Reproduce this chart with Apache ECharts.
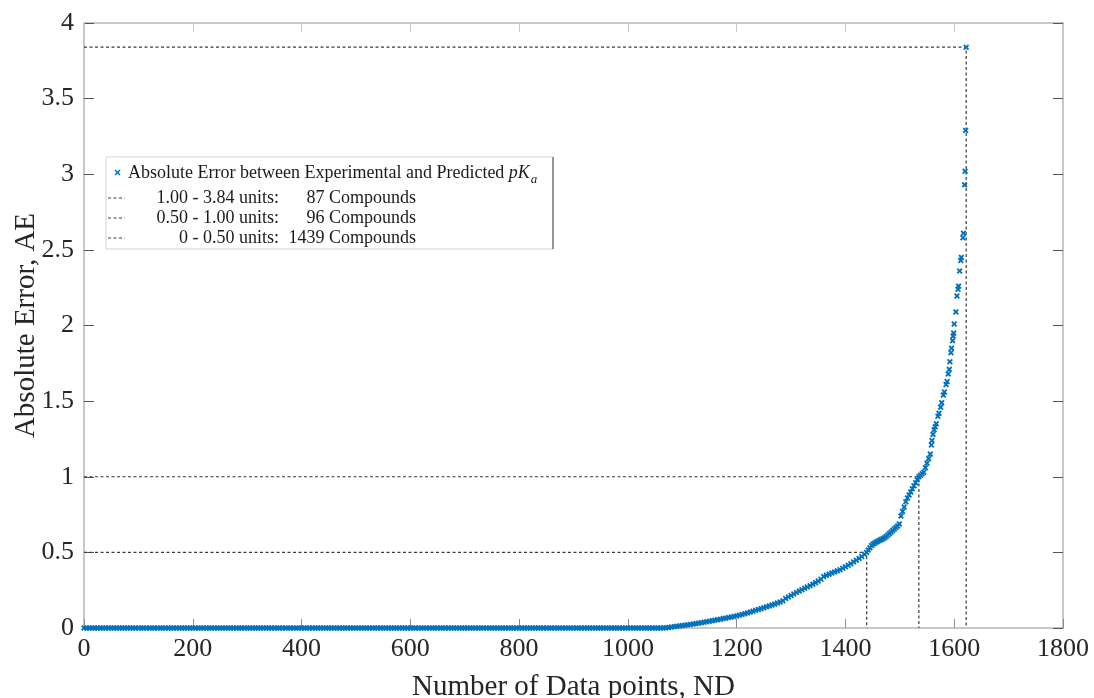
<!DOCTYPE html>
<html>
<head>
<meta charset="utf-8">
<script src="https://cdn.jsdelivr.net/npm/echarts@6/dist/echarts.min.js"></script>
<style>html,body{margin:0;padding:0;background:#fff}#chart{width:1094px;height:698px}</style>
</head>
<body>
<div id="chart"></div>
<script>
// sampled points of the sorted absolute errors (ND index, AE value)
var nd = [
  0,5,10,15,20,25,30,35,40,45,50,55,60,65,70,75,80,85,90,95,
  100,105,110,115,120,125,130,135,140,145,150,155,160,165,170,175,180,185,190,195,
  200,205,210,215,220,225,230,235,240,245,250,255,260,265,270,275,280,285,290,295,
  300,305,310,315,320,325,330,335,340,345,350,355,360,365,370,375,380,385,390,395,
  400,405,410,415,420,425,430,435,440,445,450,455,460,465,470,475,480,485,490,495,
  500,505,510,515,520,525,530,535,540,545,550,555,560,565,570,575,580,585,590,595,
  600,605,610,615,620,625,630,635,640,645,650,655,660,665,670,675,680,685,690,695,
  700,705,710,715,720,725,730,735,740,745,750,755,760,765,770,775,780,785,790,795,
  800,805,810,815,820,825,830,835,840,845,850,855,860,865,870,875,880,885,890,895,
  900,905,910,915,920,925,930,935,940,945,950,955,960,965,970,975,980,985,990,995,
  1000,1005,1010,1015,1020,1025,1030,1035,1040,1045,1050,1055,1060,
  1065,1070,1075,1080,1085,1090,1095,1100,
  1105,1110,1115,1120,1125,1130,1135,1140,1145,1150,1155,1160,1165,1170,1175,1180,1185,1190,1195,1200,
  1205,1210,1215,1220,1225,1230,1235,1240,1245,1250,1255,1260,1265,1270,1275,1280,1285,1290,1295,1300,
  1305,1310,1315,1320,1325,1330,1335,1340,1345,1350,1355,1360,1365,1370,1375,1380,1385,1390,1395,1400,
  1405,1410,1415,1420,1425,1430,1435,
  1439,1442,1445,1448,1451,1454,1457,1460,1463,1466,
  1469,1472,1475,1478,1481,1484,1487,1490,1493,1496,
  1499,1502,1505,1508,1511,1514,1517,1520,1523,1526,
  1529,1532,1535,1538,1541,1544,1547,1550,1553,1556,
  1558,1559,1561,1563,1565,1567,1570,1572,1575,1577,1580,1582,1585,1587,1589,1591,1592,1594,1595,1597,
  1598,1599,1600,1603,1605,1607,1608,1610,1612,1613,1616,1617,1619,1620,1621,1622
];
var ae = [
  0,0,0,0,0,0,0,0,0,0,0,0,0,0,0,0,0,0,0,0,
  0,0,0,0,0,0,0,0,0,0,0,0,0,0,0,0,0,0,0,0,
  0,0,0,0,0,0,0,0,0,0,0,0,0,0,0,0,0,0,0,0,
  0,0,0,0,0,0,0,0,0,0,0,0,0,0,0,0,0,0,0,0,
  0,0,0,0,0,0,0,0,0,0,0,0,0,0,0,0,0,0,0,0,
  0,0,0,0,0,0,0,0,0,0,0,0,0,0,0,0,0,0,0,0,
  0,0,0,0,0,0,0,0,0,0,0,0,0,0,0,0,0,0,0,0,
  0,0,0,0,0,0,0,0,0,0,0,0,0,0,0,0,0,0,0,0,
  0,0,0,0,0,0,0,0,0,0,0,0,0,0,0,0,0,0,0,0,
  0,0,0,0,0,0,0,0,0,0,0,0,0,0,0,0,0,0,0,0,
  0,0,0,0,0,0,0,0,0,0,0,0,0,
  0,0.002,0.004,0.006,0.009,0.011,0.014,0.016,
  0.018,0.021,0.023,0.026,0.029,0.032,0.035,0.038,0.042,0.045,0.048,0.051,0.055,0.058,0.062,0.065,0.069,0.072,0.076,0.08,
  0.085,0.09,0.095,0.10,0.105,0.111,0.117,0.122,0.128,0.134,0.14,0.146,0.152,0.158,0.165,0.172,0.18,0.195,0.205,0.215,
  0.225,0.235,0.244,0.253,0.262,0.271,0.28,0.29,0.30,0.31,0.322,0.34,0.348,0.356,0.364,0.371,0.378,0.385,0.395,0.405,
  0.415,0.425,0.437,0.448,0.46,0.473,0.487,
  0.50,0.515,0.53,0.545,0.555,0.562,0.568,0.574,0.58,0.585,
  0.59,0.597,0.605,0.615,0.625,0.635,0.645,0.655,0.665,0.675,
  0.688,0.74,0.77,0.80,0.835,0.86,0.88,0.90,0.92,0.94,
  0.96,0.98,1.00,1.01,1.02,1.03,1.06,1.09,1.12,1.15,
  1.21,1.24,1.28,1.31,1.33,1.35,1.40,1.42,1.46,1.49,1.54,1.56,1.61,1.63,1.68,1.71,1.76,1.82,1.85,1.90,
  1.93,1.95,2.01,2.09,2.195,2.24,2.26,2.36,2.43,2.45,2.58,2.61,2.93,3.02,3.29,3.84
];
// error bands: upper limit, last ND index, legend text, count
var bandLimits = [3.84, 1.00, 0.50];
var bandEnds = [1622, 1535, 1439];
var bandLabels = ['1.00 - 3.84 units:', '0.50 - 1.00 units:', '0 - 0.50 units:'];
var bandCounts = [87, 96, 1439];

var font = 'Liberation Serif';
var blue = '#0072BD';
var xMark = 'path://M0,2.2L2.2,0L5,2.8L7.8,0L10,2.2L7.2,5L10,7.8L7.8,10L5,7.2L2.2,10L0,7.8L2.8,5Z';

var chart = echarts.init(document.getElementById('chart'));

var points = nd.map(function (x, i) { return [x, ae[i]]; });

var series = [];
bandLimits.forEach(function (lim, i) {
  series.push({
    type: 'line',
    data: [[0, lim], [bandEnds[i], lim], [bandEnds[i], 0]],
    symbol: 'none',
    silent: true,
    z: 1,
    lineStyle: {color: '#3a3a3a', width: 1.2, type: [3, 2.5]}
  });
});
series.push({
  type: 'scatter',
  data: points,
  symbol: xMark,
  symbolSize: 6,
  z: 3,
  itemStyle: {color: blue, opacity: 1}
});

var fs = 18;
var legendEls = [
  {type: 'rect', shape: {x: 106, y: 157, width: 447, height: 92},
   style: {fill: '#fff', stroke: '#d4d4d4', lineWidth: 1}},
  {type: 'line', shape: {x1: 553, y1: 157, x2: 553, y2: 249}, style: {stroke: '#444', lineWidth: 1}},
  {type: 'line', shape: {x1: 115, y1: 170, x2: 120, y2: 175}, style: {stroke: blue, lineWidth: 1.5}},
  {type: 'line', shape: {x1: 120, y1: 170, x2: 115, y2: 175}, style: {stroke: blue, lineWidth: 1.5}},
  {type: 'text', x: 128, y: 173, style: {
    text: '{t|Absolute Error between Experimental and Predicted }{i|pK}{s|a}',
    verticalAlign: 'middle',
    rich: {
      t: {fontFamily: font, fontSize: fs, fill: '#1a1a1a'},
      i: {fontFamily: font, fontSize: fs, fontStyle: 'italic', fill: '#1a1a1a'},
      s: {fontFamily: font, fontSize: 13, fontStyle: 'italic', fill: '#1a1a1a', padding: [14, 0, 0, 1]}
    }
  }}
];
var rowY = [198, 218, 238];
bandLabels.forEach(function (lab, i) {
  legendEls.push({type: 'line', shape: {x1: 108, y1: rowY[i], x2: 125, y2: rowY[i]},
    style: {stroke: '#3a3a3a', lineWidth: 1, lineDash: [3, 2.5]}});
  legendEls.push({type: 'text', x: 279, y: rowY[i], style: {
    text: lab, fontFamily: font, fontSize: fs, fill: '#1a1a1a', align: 'right', verticalAlign: 'middle'}});
  legendEls.push({type: 'text', x: 416, y: rowY[i], style: {
    text: bandCounts[i] + ' Compounds', fontFamily: font, fontSize: fs, fill: '#1a1a1a', align: 'right', verticalAlign: 'middle'}});
});

var labelStyle = {fontFamily: font, fontSize: 26, color: '#262626'};
var axisLine = {show: true, onZero: false, lineStyle: {color: '#b5b5b5', width: 1.5}};
var plain = function (v) { return String(v); };

chart.setOption({
  animation: false,
  backgroundColor: '#fff',
  grid: {left: 84, right: 31, top: 23, bottom: 70, outerBoundsMode: 'none', containLabel: false},
  xAxis: [{
    type: 'value', min: 0, max: 1800, interval: 200,
    name: 'Number of Data points, ND', nameLocation: 'middle', nameGap: 45,
    nameTextStyle: {fontFamily: font, fontSize: 29, color: '#262626'},
    axisLine: axisLine,
    axisTick: {inside: true, length: 9, lineStyle: {color: '#8c8c8c'}},
    axisLabel: Object.assign({margin: 8, formatter: plain}, labelStyle),
    splitLine: {show: false}
  }, {
    type: 'value', min: 0, max: 1800, interval: 200, position: 'top',
    axisLine: axisLine,
    axisTick: {inside: true, length: 9, lineStyle: {color: '#c8c8c8'}},
    axisLabel: {show: false}, splitLine: {show: false}
  }],
  yAxis: [{
    type: 'value', min: 0, max: 4, interval: 0.5,
    name: 'Absolute Error, AE', nameLocation: 'middle', nameGap: 43, nameMoveOverlap: false,
    nameTextStyle: {fontFamily: font, fontSize: 29, color: '#262626'},
    axisLine: axisLine,
    axisTick: {inside: true, length: 10, lineStyle: {color: '#555'}},
    axisLabel: Object.assign({margin: 10, formatter: plain}, labelStyle),
    splitLine: {show: false}
  }, {
    type: 'value', min: 0, max: 4, interval: 0.5, position: 'right',
    axisLine: axisLine,
    axisTick: {inside: true, length: 10, lineStyle: {color: '#555'}},
    axisLabel: {show: false}, splitLine: {show: false}
  }],
  series: series,
  graphic: [{type: 'group', z: 100, children: legendEls}]
});
</script>
</body>
</html>
